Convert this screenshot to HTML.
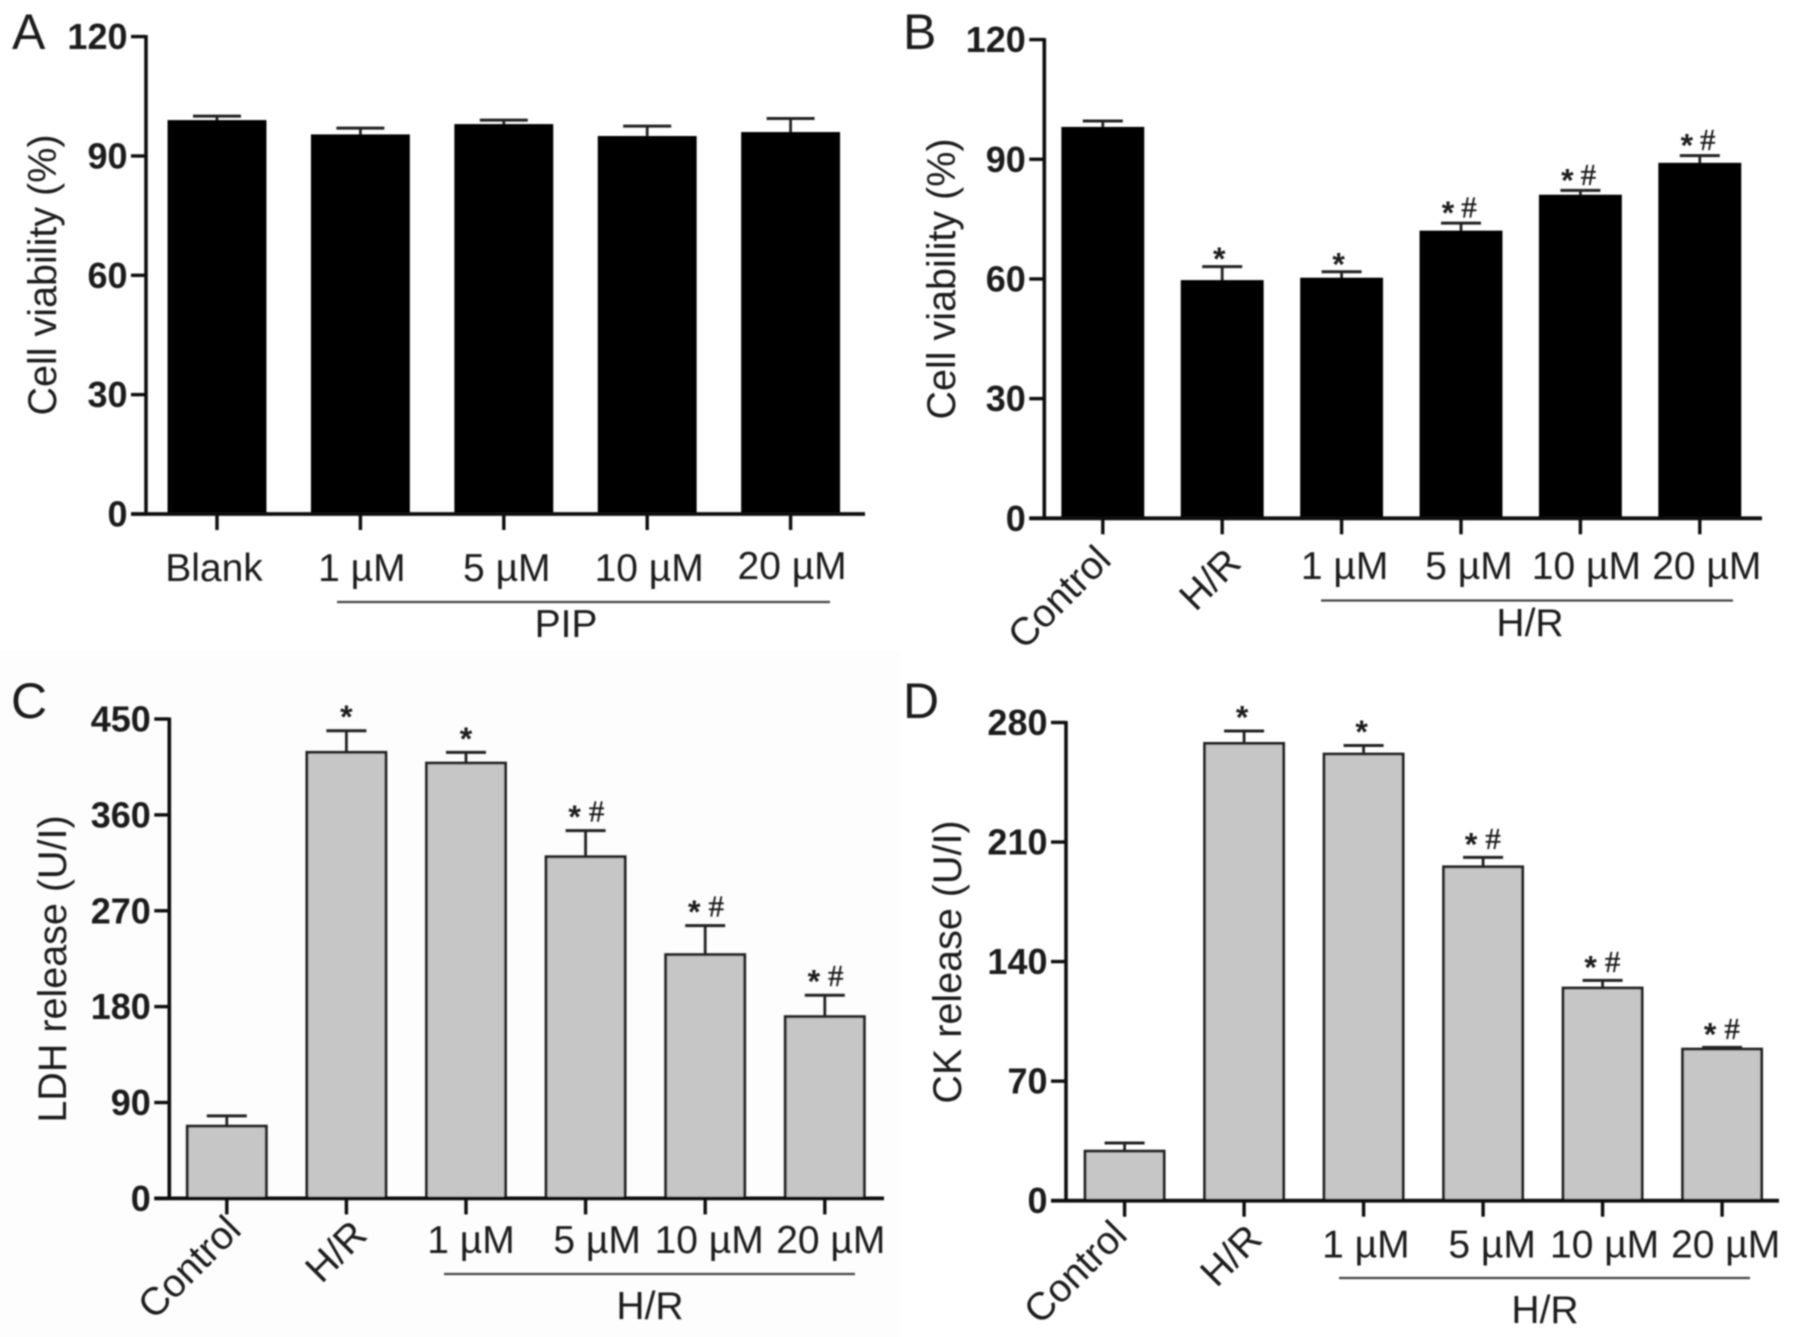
<!DOCTYPE html>
<html lang="en">
<head>
<meta charset="utf-8">
<title>Cell viability, LDH and CK release panels</title>
<style>
html,body{margin:0;padding:0;background:#fff;}
svg{display:block;}
text{font-family:"Liberation Sans",sans-serif;fill:#1a1a1a;}
</style>
</head>
<body>
<svg id="figure" xmlns="http://www.w3.org/2000/svg" width="1795" height="1337" viewBox="0 0 1795 1337">
<defs><filter id="soft" x="-2%" y="-2%" width="104%" height="104%"><feGaussianBlur stdDeviation="0.85"/></filter></defs>
<rect width="1795" height="1337" fill="#ffffff"/>
<rect x="0" y="650" width="900" height="687" fill="#fdfdfd"/>
<g id="root" filter="url(#soft)"></g>
</svg>
<script>
const panelACategories = ["Blank", "1 µM", "5 µM", "10 µM", "20 µM"];
const panelAValues = [99, 95.4, 98, 95, 96];
const panelAErrors = [1, 1.6, 1, 2.5, 3.4];
const panelAMarks = ["", "", "", "", ""];
const panelATicks = [0, 30, 60, 90, 120];

const panelBCategories = ["Control", "H/R", "1 µM", "5 µM", "10 µM", "20 µM"];
const panelBValues = [98.1, 59.7, 60.3, 72.1, 81.1, 89.1];
const panelBErrors = [1.5, 3.4, 1.5, 1.9, 1.1, 1.8];
const panelBMarks = ["", "*", "*", "*#", "*#", "*#"];
const panelBTicks = [0, 30, 60, 90, 120];

const panelCCategories = ["Control", "H/R", "1 µM", "5 µM", "10 µM", "20 µM"];
const panelCValues = [67.8, 418.7, 408.6, 320.7, 228.8, 170.6];
const panelCErrors = [9.7, 20.3, 10.1, 24.5, 27.2, 20.1];
const panelCMarks = ["", "*", "*", "*#", "*#", "*#"];
const panelCTicks = [0, 90, 180, 270, 360, 450];

const panelDCategories = ["Control", "H/R", "1 µM", "5 µM", "10 µM", "20 µM"];
const panelDValues = [29, 267.75, 261.5, 195.5, 124.5, 88.75];
const panelDErrors = [4.75, 7.25, 5, 5.5, 4.5, 1];
const panelDMarks = ["", "*", "*", "*#", "*#", "*#"];
const panelDTicks = [0, 70, 140, 210, 280];

const SVG_NS = "http://www.w3.org/2000/svg";
const root = document.getElementById("root");

function mk(parent, tag, attrs, content) {
  const el = document.createElementNS(SVG_NS, tag);
  for (const k in attrs) el.setAttribute(k, attrs[k]);
  if (content !== undefined) el.textContent = content;
  parent.appendChild(el);
  return el;
}

function drawPanel(cfg) {
  const group = mk(root, "g", {});
  
  

  const maxTick = cfg.ticks[cfg.ticks.length - 1];
  const yScale = v => cfg.bottom - (v / maxTick) * (cfg.bottom - cfg.top);
  const xScale = i => cfg.firstCenter + i * cfg.step;

  const letter = mk(group, "text", {x: cfg.letterX, y: cfg.letterY, "font-size": 50, fill: "#222"}, cfg.letter);
  
  

  cfg.values.forEach((v, i) => {
    const cx = xScale(i);
    const yTop = yScale(v) + cfg.barInset;
    const yErr = yScale(v + cfg.errors[i]);

    const stem = mk(group, "line", {x1: cx, x2: cx, y1: yErr, y2: yTop, stroke: "#222", "stroke-width": 2.8});
    
    

    const cap = mk(group, "line", {x1: cx - cfg.capW / 2, x2: cx + cfg.capW / 2, y1: yErr, y2: yErr, stroke: "#222", "stroke-width": 3});
    
    

    const bar = mk(group, "rect", {
      x: cx - cfg.barW / 2, y: yTop, width: cfg.barW, height: cfg.bottom - yTop,
      fill: cfg.fill, stroke: cfg.barStroke, "stroke-width": 2.9
    });
    
    

    const mark = cfg.marks[i];
    if (mark.indexOf("*") >= 0) {
      const both = mark.length > 1;
      const sx = cx + (both ? cfg.starDx : cfg.singleDx);
      const sy = yErr - (both ? cfg.markUp : cfg.singleUp);
      const star = mk(group, "text", {x: sx, y: sy + 15.5, "font-size": 32, "font-weight": "bold", "text-anchor": "middle"}, "*");
      
      
      if (both) {
        const hash = mk(group, "text", {x: cx + cfg.hashDx, y: sy + 9, "font-size": 31, "text-anchor": "middle", stroke: "#1a1a1a", "stroke-width": 0.35, style: 'font-family:"Liberation Serif",serif'}, "#");
        
        
      }
    }

    const tick = mk(group, "line", {x1: cx, x2: cx, y1: cfg.bottom, y2: cfg.bottom + 16, stroke: "#111", "stroke-width": 3.4});
    
    

    const rot = cfg.rotated[cfg.categories[i]];
    let label;
    if (rot) {
      label = mk(group, "text", {
        x: rot[0], y: rot[1], "font-size": 39, "text-anchor": "end", fill: "#222",
        transform: "rotate(-45 " + rot[0] + " " + rot[1] + ")"
      }, cfg.categories[i]);
    } else {
      label = mk(group, "text", {
        x: cx + cfg.labelDx[i], y: cfg.labelY + (cfg.labelDy ? cfg.labelDy[i] : 0),
        "font-size": 39, "text-anchor": "middle", fill: "#222"
      }, cfg.categories[i]);
    }
    
    
  });

  const yAxis = mk(group, "line", {x1: cfg.axisX, x2: cfg.axisX, y1: cfg.top - 1.5, y2: cfg.bottom + 1.5, stroke: "#111", "stroke-width": 3.6});
  
  

  const xAxis = mk(group, "line", {x1: cfg.axisX - 15, x2: cfg.right, y1: cfg.bottom, y2: cfg.bottom, stroke: "#111", "stroke-width": 3.8});
  
  

  cfg.ticks.forEach(t => {
    const y = yScale(t);
    const tk = mk(group, "line", {x1: cfg.axisX - 15, x2: cfg.axisX, y1: y, y2: y, stroke: "#111", "stroke-width": 3.4});
    
    

    const lb = mk(group, "text", {x: cfg.axisX - 18.5, y: y + 12.5, "font-size": 36, "font-weight": "bold", "text-anchor": "end", fill: "#111"}, String(t));
    
    
  });

  const title = mk(group, "text", {
    x: cfg.titleX, y: cfg.titleY, "font-size": 39.5, "text-anchor": "middle", fill: "#222",
    transform: "rotate(-90 " + cfg.titleX + " " + cfg.titleY + ")"
  }, cfg.title);
  
  

  const bracket = mk(group, "line", {x1: cfg.bracket[0], x2: cfg.bracket[1], y1: cfg.bracket[2], y2: cfg.bracket[2], stroke: "#444", "stroke-width": 2.2});
  
  

  const groupLabel = mk(group, "text", {x: cfg.groupLabel[1], y: cfg.groupLabel[2], "font-size": 39, "text-anchor": "middle", fill: "#222"}, cfg.groupLabel[0]);
  
  
}

drawPanel({
  letter: "A", letterX: 12, letterY: 49,
  categories: panelACategories, values: panelAValues, errors: panelAErrors, marks: panelAMarks, ticks: panelATicks,
  title: "Cell viability (%)", titleX: 56, titleY: 275,
  axisX: 146, right: 865, top: 36.6, bottom: 514,
  firstCenter: 217, step: 143.4, barW: 96, capW: 48, barInset: 1.4,
  fill: "#000", barStroke: "#000",
  labelY: 581, labelDx: [-3, 1.5, 3, 2, 1.5], labelDy: [0, 0, 0, 0, -2], rotated: {},
  starDx: 0, hashDx: 0, singleDx: 0, markUp: 0, singleUp: 0,
  bracket: [337, 830, 602], groupLabel: ["PIP", 566, 637]
});

drawPanel({
  letter: "B", letterX: 903, letterY: 49,
  categories: panelBCategories, values: panelBValues, errors: panelBErrors, marks: panelBMarks, ticks: panelBTicks,
  title: "Cell viability (%)", titleX: 955, titleY: 279,
  axisX: 1044.3, right: 1762, top: 39.6, bottom: 518.3,
  firstCenter: 1102.8, step: 119.4, barW: 80, capW: 40, barInset: 1.4,
  fill: "#000", barStroke: "#000",
  labelY: 579, labelDx: [0, 0, 3, 8, 6, 7], rotated: {"Control": [1113, 562], "H/R": [1243, 565]},
  starDx: -13, hashDx: 8, singleDx: -3, markUp: 14.5, singleUp: 12,
  bracket: [1321, 1733, 600.5], groupLabel: ["H/R", 1530, 636]
});

drawPanel({
  letter: "C", letterX: 11, letterY: 718,
  categories: panelCCategories, values: panelCValues, errors: panelCErrors, marks: panelCMarks, ticks: panelCTicks,
  title: "LDH release (U/I)", titleX: 66, titleY: 969,
  axisX: 169.3, right: 884, top: 719, bottom: 1198.4,
  firstCenter: 226.8, step: 119.6, barW: 79, capW: 40, barInset: 0,
  fill: "#c6c6c6", barStroke: "#222",
  labelY: 1253, labelDx: [0, 0, 5, 11.5, 4, 6], rotated: {"Control": [243, 1232], "H/R": [369, 1237]},
  starDx: -11, hashDx: 11, singleDx: 0, markUp: 18, singleUp: 18,
  bracket: [444, 855, 1274], groupLabel: ["H/R", 650, 1319]
});

drawPanel({
  letter: "D", letterX: 903, letterY: 718,
  categories: panelDCategories, values: panelDValues, errors: panelDErrors, marks: panelDMarks, ticks: panelDTicks,
  title: "CK release (U/I)", titleX: 961, titleY: 962,
  axisX: 1066, right: 1779, top: 722.5, bottom: 1200.7,
  firstCenter: 1124.6, step: 119.5, barW: 79, capW: 40, barInset: 0,
  fill: "#c6c6c6", barStroke: "#222",
  labelY: 1257.5, labelDx: [0, 0, 2.3, 9, 2, 3.6], rotated: {"Control": [1129, 1237], "H/R": [1264, 1241]},
  starDx: -12, hashDx: 10, singleDx: -2, markUp: 17.5, singleUp: 18,
  bracket: [1339, 1750, 1278], groupLabel: ["H/R", 1545, 1323]
});
</script>
</body>
</html>
